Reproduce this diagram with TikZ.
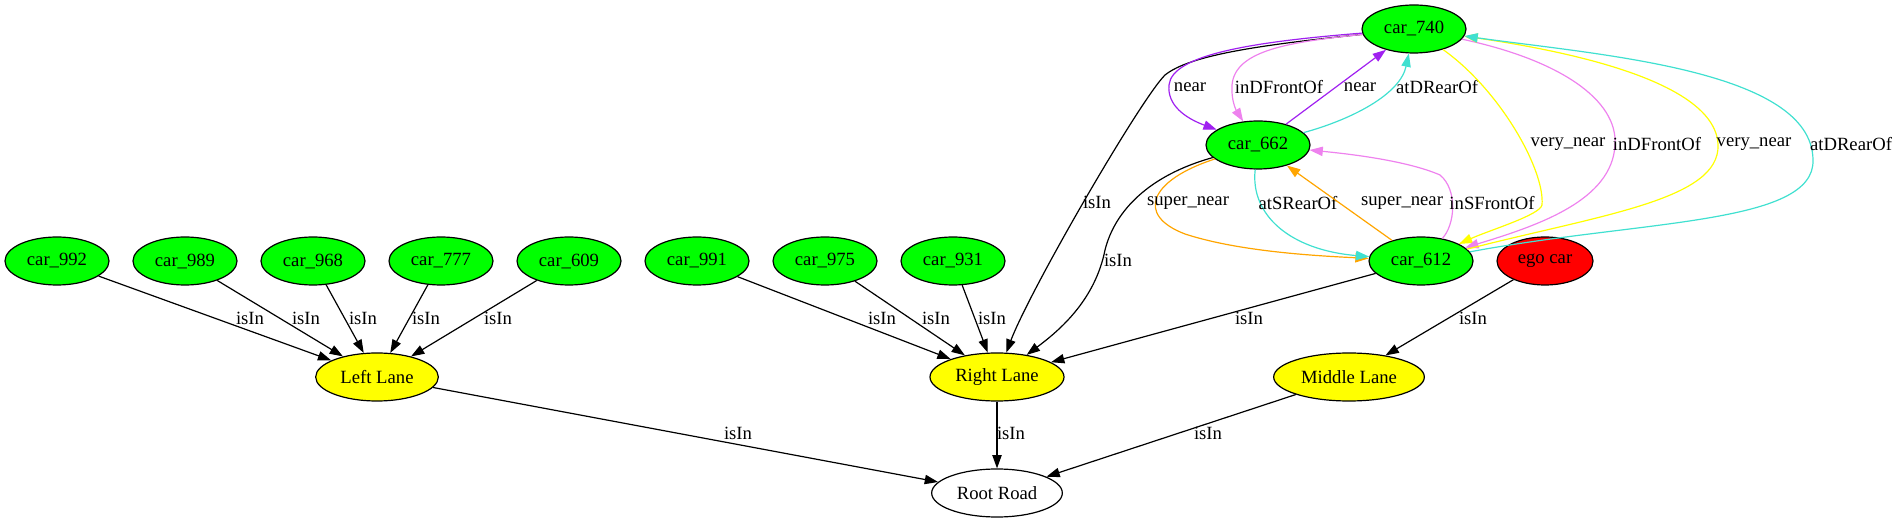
\documentclass[tikz,border=0pt]{standalone}
\usepackage{fontspec}
\setmainfont{Liberation Serif}
\usetikzlibrary{shapes.geometric,arrows.meta}
\definecolor{gvgreen}{HTML}{00FF00}
\definecolor{gvyellow}{HTML}{FFFF00}
\definecolor{gvred}{HTML}{FF0000}
\definecolor{gvpurple}{HTML}{A020F0}
\definecolor{gvviolet}{HTML}{EE82EE}
\definecolor{gvturq}{HTML}{40E0D0}
\definecolor{gvorange}{HTML}{FFA500}
\begin{document}
\begin{tikzpicture}[x=0.75pt,y=-0.75pt,
  every node/.style={font=\fontsize{14}{16}\selectfont},
  nd/.style={ellipse,draw=black,line width=0.9pt,inner sep=0pt,minimum width=78pt,minimum height=36pt},
  carnode/.style={nd,fill=gvgreen},
  lane/.style={nd,fill=gvyellow},
  edge/.style={line width=0.9pt,-{Triangle[length=10pt,width=7pt]}},
  lbl/.style={inner sep=0pt,text=black}]
\useasboundingbox (0,0) rectangle (1897,523);

% nodes
\node[carnode] (c992) at (57,261) {car\_992};
\node[carnode] (c989) at (185,261) {car\_989};
\node[carnode] (c968) at (313,261) {car\_968};
\node[carnode] (c777) at (441,261) {car\_777};
\node[carnode] (c609) at (569,261) {car\_609};
\node[carnode] (c991) at (697,261) {car\_991};
\node[carnode] (c975) at (825,261) {car\_975};
\node[carnode] (c931) at (953,261) {car\_931};
\node[carnode] (c740) at (1414,29) {car\_740};
\node[carnode] (c662) at (1258,145) {car\_662};
\node[carnode] (c612) at (1421,261) {car\_612};
\node[nd,fill=gvred,minimum width=72pt] (ego) at (1545,261) {ego car};
\node[lane,minimum width=92pt] (LL) at (377,377) {Left Lane};
\node[lane,minimum width=100.5pt] (RL) at (997,377) {Right Lane};
\node[lane,minimum width=113pt] (ML) at (1349,377) {Middle Lane};
\node[nd,fill=white,minimum width=98pt] (root) at (997,493) {Root Road};

% left lane
\draw[edge] (c992) -- (LL) node[lbl] at (250,318) {isIn};
\draw[edge] (c989) -- (LL) node[lbl] at (306,318) {isIn};
\draw[edge] (c968) -- (LL) node[lbl] at (363,318) {isIn};
\draw[edge] (c777) -- (LL) node[lbl] at (426,318) {isIn};
\draw[edge] (c609) -- (LL) node[lbl] at (498,318) {isIn};
% right lane
\draw[edge] (c991) -- (RL) node[lbl] at (882,318) {isIn};
\draw[edge] (c975) -- (RL) node[lbl] at (936,318) {isIn};
\draw[edge] (c931) -- (RL) node[lbl] at (992,318) {isIn};
\draw[edge] (c612) -- (RL) node[lbl] at (1249,318) {isIn};
\draw[edge] (c740) .. controls (1260,45) and (1190,55) .. (1165,75)
  .. controls (1140,100) and (1030,290) .. (RL) node[lbl] at (1097,202) {isIn};
\draw[edge] (c662) .. controls (1150,175) and (1115,210) .. (1105,250)
  .. controls (1095,300) and (1060,330) .. (RL) node[lbl] at (1118,260) {isIn};
% middle lane
\draw[edge] (ego) -- (ML) node[lbl] at (1473,318) {isIn};
% root
\draw[edge] (LL) -- (root) node[lbl] at (738,433) {isIn};
\draw[edge] (RL) -- (root) node[lbl] at (1011,433) {isIn};
\draw[edge] (ML) -- (root) node[lbl] at (1208,433) {isIn};

% car_740 <-> car_662
\draw[edge,gvpurple] (c740) .. controls (1250,42) and (1172,55) .. (1169,85)
  .. controls (1167,105) and (1185,118) .. (c662) node[lbl] at (1190,87) {near};
\draw[edge,gvviolet] (c740) .. controls (1290,42) and (1235,50) .. (1232,85)
  .. controls (1231,100) and (1236,110) .. (c662) node[lbl] at (1279,87) {inDFrontOf};
\draw[edge,gvpurple] (c662) -- (c740) node[lbl] at (1360,87) {near};
\draw[edge,gvturq] (c662) .. controls (1350,120) and (1400,95) .. (c740) node[lbl] at (1437,87) {atDRearOf};

% car_662 <-> car_612
\draw[edge,gvorange] (c662) .. controls (1150,180) and (1135,215) .. (1185,234)
  .. controls (1240,252) and (1320,256) .. (c612) node[lbl] at (1188,203) {super\_near};
\draw[edge,gvturq] (c662) .. controls (1250,215) and (1290,250) .. (c612) node[lbl] at (1298,203) {atSRearOf};
\draw[edge,gvorange] (c612) -- (c662) node[lbl] at (1402,203) {super\_near};
\draw[edge,gvviolet] (c612) .. controls (1455,225) and (1458,190) .. (1440,175)
  .. controls (1410,162) and (1360,155) .. (c662) node[lbl] at (1492,203) {inSFrontOf};

% car_740 <-> car_612
\draw[edge,gvyellow] (c740) .. controls (1500,90) and (1545,170) .. (1542,205)
  .. controls (1540,215) and (1490,230) .. (c612) node[lbl] at (1568,144) {very\_near};
\draw[edge,gvviolet] (c740) .. controls (1560,60) and (1618,100) .. (1615,145)
  .. controls (1612,200) and (1540,225) .. (c612) node[lbl] at (1657,144) {inDFrontOf};
\draw[edge,gvyellow] (c612) .. controls (1600,215) and (1720,200) .. (1718,145)
  .. controls (1716,80) and (1560,50) .. (c740) node[lbl] at (1754,144) {very\_near};
\draw[edge,gvturq] (c612) .. controls (1640,220) and (1815,225) .. (1813,160)
  .. controls (1812,70) and (1600,55) .. (c740) node[lbl] at (1851,144) {atDRearOf};
\end{tikzpicture}
\end{document}
